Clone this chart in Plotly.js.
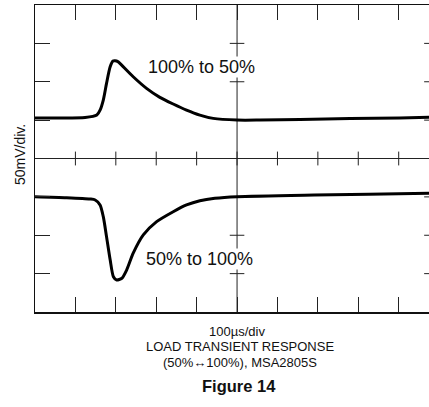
<!DOCTYPE html>
<html>
<head>
<meta charset="utf-8">
<script src="https://cdn.plot.ly/plotly-3.0.1.min.js"></script>
<style>
  html, body { margin: 0; padding: 0; background: #fff; }
  #chart { width: 429px; height: 407px; }
</style>
</head>
<body>
<div id="chart"></div>
<script>
// Load step 100% -> 50% : output deviation (mV) versus time (µs)
const timeUp = [0, 62, 124, 153, 161, 169, 177, 186, 193, 198, 205, 210, 243, 276, 309, 342, 375, 408, 441, 500, 557, 656, 780, 903, 1000];
const voltUp = [52.7, 52.7, 53.4, 56.6, 63, 76.2, 97.9, 119.5, 127, 127.3, 126.3, 124, 106.5, 91.4, 79.7, 71, 63.1, 56.6, 52.3, 50.1, 50.1, 50.8, 52.1, 52.7, 54];

// Load step 50% -> 100%
const timeDown = [0, 78, 136, 149, 161, 169, 177, 186, 194, 202, 215, 227, 243, 268, 301, 342, 375, 408, 445, 500, 691, 975, 1000];
const voltDown = [-49.7, -51, -52.7, -54, -60.5, -75.8, -101.8, -132, -154, -158.2, -156, -145, -123.4, -99.6, -82.3, -69.3, -60.5, -55, -51.8, -49.7, -47.5, -45.3, -45];

// Scope graticule: 10 divisions of 100 µs, 8 divisions of 50 mV
const xDivs = [100, 200, 300, 400, 500, 600, 700, 800, 900];
const yDivs = [-150, -100, -50, 0, 50, 100, 150];

const labelUp = "100% to 50%";
const labelDown = "50% to 100%";
const yTitle = "50mV/div.";
const xTitle = "100µs/div";
const captionLine1 = "LOAD TRANSIENT RESPONSE";
const captionLine2 = "(50%↔100%), MSA2805S";
const figureTitle = "Figure 14";

const FONT = "Liberation Sans, Arial, Helvetica, sans-serif";
const INK = "#111";

// page-pixel helpers for the text placed outside the grid (plot box: x 35..429, y 5..312)
const px = function (v) { return (v - 35) / 394; };
const py = function (v) { return (312 - v) / 307; };

const traceStyle = { color: "#000", width: 3, shape: "spline", smoothing: 0.7 };
const traces = [
  { x: timeUp, y: voltUp, mode: "lines", line: traceStyle, hoverinfo: "skip" },
  { x: timeDown, y: voltDown, mode: "lines", line: traceStyle, hoverinfo: "skip" }
];

// centre crosshair with small crossing marks, and the right-hand border ticks
const shapes = [];
const gridLine = { color: "#222", width: 1 };
shapes.push({ type: "line", xref: "x", yref: "y", x0: 0, x1: 1000, y0: 0, y1: 0, line: gridLine, layer: "below" });
shapes.push({ type: "line", xref: "x", yref: "y", x0: 500, x1: 500, y0: -200, y1: 200, line: gridLine, layer: "below" });
xDivs.forEach(function (t) {
  shapes.push({ type: "line", xref: "x", yref: "y", x0: t, x1: t, y0: -9, y1: 9, line: gridLine, layer: "below" });
});
yDivs.forEach(function (v) {
  shapes.push({ type: "line", xref: "x", yref: "y", x0: 482, x1: 518, y0: v, y1: v, line: gridLine, layer: "below" });
  shapes.push({ type: "line", xref: "x", yref: "y", x0: 963, x1: 1000, y0: v, y1: v, line: gridLine, layer: "below" });
});

const centred = { showarrow: false, xanchor: "center", yanchor: "middle" };
const annotations = [
  Object.assign({ xref: "x", yref: "y", x: 411, y: 119, text: labelUp,
    font: { family: FONT, size: 18, color: INK }, bgcolor: "#fff", borderpad: 0 }, centred),
  Object.assign({ xref: "x", yref: "y", x: 407, y: -131, text: labelDown,
    font: { family: FONT, size: 18, color: INK }, bgcolor: "#fff", borderpad: 0 }, centred),
  Object.assign({ xref: "paper", yref: "paper", x: px(20), y: py(155), text: yTitle, textangle: -90,
    font: { family: FONT, size: 14, color: INK } }, centred),
  Object.assign({ xref: "paper", yref: "paper", x: px(237), y: py(331), text: xTitle,
    font: { family: FONT, size: 13, color: INK } }, centred),
  Object.assign({ xref: "paper", yref: "paper", x: px(240), y: py(346.5), text: captionLine1,
    font: { family: FONT, size: 13, color: INK } }, centred),
  Object.assign({ xref: "paper", yref: "paper", x: px(240), y: py(362), text: captionLine2,
    font: { family: FONT, size: 13, color: INK } }, centred),
  Object.assign({ xref: "paper", yref: "paper", x: px(239), y: py(386), text: "<b>" + figureTitle + "</b>",
    font: { family: FONT, size: 16.5, color: INK } }, centred)
];

const layout = {
  width: 429,
  height: 407,
  margin: { l: 35, r: 0, t: 5, b: 95, pad: 0 },
  paper_bgcolor: "#fff",
  plot_bgcolor: "#fff",
  showlegend: false,
  xaxis: {
    range: [0, 975], fixedrange: true, automargin: false,
    showgrid: false, zeroline: false, showticklabels: false,
    showline: true, linecolor: "#111", linewidth: 1.5, mirror: "ticks",
    ticks: "inside", ticklen: 15, tickwidth: 1, tickcolor: "#222",
    tickmode: "array", tickvals: xDivs
  },
  yaxis: {
    range: [-200, 200], fixedrange: true, automargin: false,
    showgrid: false, zeroline: false, showticklabels: false,
    showline: true, linecolor: "#111", linewidth: 1.5, mirror: false,
    ticks: "inside", ticklen: 15, tickwidth: 1, tickcolor: "#222",
    tickmode: "array", tickvals: yDivs
  },
  shapes: shapes,
  annotations: annotations
};

Plotly.newPlot("chart", traces, layout, { staticPlot: true, displayModeBar: false });
</script>
</body>
</html>
